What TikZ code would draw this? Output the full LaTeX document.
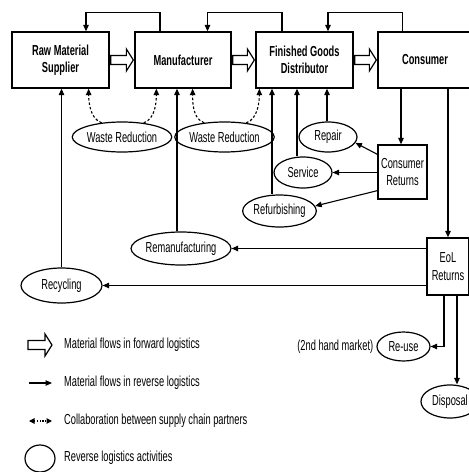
\documentclass[tikz,border=0pt]{standalone}
\usepackage{fontspec}
\setmainfont[FakeStretch=0.64]{Liberation Sans}
\usetikzlibrary{shapes.geometric,arrows.meta,calc}

% hollow block arrow for forward material flow, from #1 to #2 (horizontal)
\newcommand\fwdflow[2]{%
  \draw[fwd] let \p1=(#1), \p2=(#2) in
    (\x1,\y1+4.5pt) -- (\x2-7pt,\y1+4.5pt) -- (\x2-7pt,\y1+11pt) -- (\x2,\y1)
    -- (\x2-7pt,\y1-11pt) -- (\x2-7pt,\y1-4.5pt) -- (\x1,\y1-4.5pt) -- cycle;}

\begin{document}
\begin{tikzpicture}[x=1pt,y=-1pt,
  every node/.style={font=\fontsize{14.5}{17.5}\selectfont},
  box/.style={draw, line width=1.3pt, inner sep=0pt, align=center},
  bigbox/.style={box, font=\fontsize{14.5}{17.5}\selectfont\bfseries},
  act/.style={draw, ellipse, line width=1.2pt, inner sep=0pt},
  rev/.style={line width=1.1pt, -{Triangle[length=6.5pt,width=5.5pt]}},
  collab/.style={line width=1.1pt, dash pattern=on 2.5pt off 2pt, -{Triangle[length=6.5pt,width=5.5pt]}},
  fwd/.style={draw, line width=1.2pt, fill=white},
  legtext/.style={anchor=west, inner sep=0pt},
]
\useasboundingbox (0,0) rectangle (469,472);

% supply chain partners
\node[bigbox, minimum width=97, minimum height=56] (rms)  at (60.5,60)  {Raw Material\\Supplier};
\node[bigbox, minimum width=96, minimum height=56] (mfr)  at (183,60)   {Manufacturer};
\node[bigbox, minimum width=97, minimum height=56] (fgd)  at (304.5,60) {Finished Goods\\Distributor};
\node[bigbox, minimum width=94, minimum height=56] (cons) at (425,60)   {Consumer};

% return points
\node[box, minimum width=49, minimum height=54] (cret) at (402.5,172) {Consumer\\Returns};
\node[box, minimum width=42, minimum height=57] (eol)  at (448,266.5) {EoL\\Returns};

% reverse logistics activities
\node[act, minimum width=80, minimum height=30] (wr1)    at (122,137)     {Waste Reduction};
\node[act, minimum width=81, minimum height=30] (wr2)    at (224.5,137)   {Waste Reduction};
\node[act, minimum width=58, minimum height=30] (repair) at (328,137)     {Repair};
\node[act, minimum width=58, minimum height=31] (serv)   at (303,172.5)   {Service};
\node[act, minimum width=65, minimum height=32] (refurb) at (279.5,211)   {Refurbishing};
\node[act, minimum width=82, minimum height=33] (reman)  at (181,248.5)   {Remanufacturing};
\node[act, minimum width=81, minimum height=35] (recyc)  at (61.5,285.5)  {Recycling};
\node[act, minimum width=53, minimum height=29] (reuse)  at (403.5,346.5) {Re-use};
\node[act, minimum width=58, minimum height=33] (disp)   at (450,401.5)   {Disposal};
\node[anchor=east, inner sep=0pt] (market) at ([xshift=-3pt]reuse.west) {(2nd hand market)};

% forward flows
\fwdflow{[xshift=1pt]rms.east}{[xshift=-1pt]mfr.west}
\fwdflow{[xshift=1pt]mfr.east}{[xshift=-1pt]fgd.west}
\fwdflow{[xshift=1pt]fgd.east}{[xshift=-1pt]cons.west}

% reverse flows over the top
\draw[rev] ([xshift=-23pt]mfr.north) -- ++(0,-19) -| ([xshift=25.5pt]rms.north);
\draw[rev] ([xshift=-22.5pt]fgd.north) -- ++(0,-19) -| ([xshift=24.5pt]mfr.north);
\draw[rev] ([xshift=25pt]cons.north west) -- ++(0,-19) -| ([xshift=23.5pt]fgd.north);

% collaboration on waste reduction
\draw[collab] (wr1.145) .. controls +(-12,-4) and +(0,12) .. ([xshift=-21pt]rms.south east);
\draw[collab] (wr1.33)  .. controls +(12,-4)  and +(0,12) .. ([xshift=22pt]mfr.south west);
\draw[collab] (wr2.145) .. controls +(-12,-4) and +(0,12) .. ([xshift=-39pt]mfr.south east);
\draw[collab] (wr2.33)  .. controls +(12,-4)  and +(0,12) .. ([xshift=4pt]fgd.south west);

% activities feeding back into the chain
\draw[rev] (recyc.north) -- (recyc.north |- rms.south);
\draw[rev] ([xshift=-4pt]reman.north) -- ([xshift=-4pt]reman.north |- mfr.south);
\draw[rev] ([xshift=-7.5pt]refurb.north) -- ([xshift=-7.5pt]refurb.north |- fgd.south);
\draw[rev] ([xshift=-6pt]serv.north) -- ([xshift=-6pt]serv.north |- fgd.south);
\draw[rev] ([xshift=-1pt]repair.north) -- ([xshift=-1pt]repair.north |- fgd.south);

% consumer returns
\draw[rev] ([xshift=-1.5pt]cret.north |- cons.south) -- ([xshift=-1.5pt]cret.north);
\draw[rev] ([yshift=-10pt]cret.north west) -- (repair.-12);
\draw[rev] (cret.west |- serv.east) -- (serv.east);
\draw[rev] ([yshift=9pt]cret.south west) -- (refurb.8);

% end-of-life returns
\draw[rev] (eol.north |- cons.south) -- (eol.north);
\draw[rev] (eol.west |- reman.east) -- (reman.east);
\draw[rev] (eol.west |- recyc.east) -- (recyc.east);
\draw[rev] ([xshift=-4pt]eol.south) |- (reuse.east);
\draw[rev] ([xshift=9pt]eol.south) -- ([xshift=9pt]eol.south |- disp.north);

% legend
\coordinate (la1) at (28,345);  \coordinate (lb1) at (52,345);
\coordinate (la2) at (29,383);  \coordinate (lb2) at (52,383);
\coordinate (la3) at (29,421);  \coordinate (lb3) at (52,421);
\fwdflow{la1}{lb1}
\draw[rev] (la2) -- (lb2);
\draw[line width=1.1pt, dash pattern=on 1.2pt off 1.5pt,
      {Triangle[length=5.5pt,width=5.5pt]}-{Triangle[length=5.5pt,width=5.5pt]}] (la3) -- (lb3);
\node[act, minimum width=30, minimum height=27] (lell) at (40,458.5) {};
\node[legtext] (lt1) at (64,345) {Material flows in forward logistics};
\node[legtext] (lt2) at (64,383) {Material flows in reverse logistics};
\node[legtext] (lt3) at (64,421) {Collaboration between supply chain partners};
\node[legtext] (lt4) at (64,458) {Reverse logistics activities};
\end{tikzpicture}
\end{document}
